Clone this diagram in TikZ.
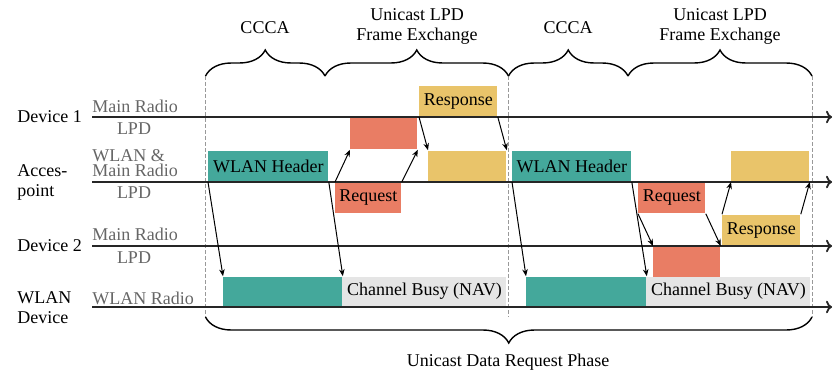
\documentclass[tikz,border=0pt]{standalone}
\usepackage{fontspec}
\setmainfont{Liberation Serif}
\usepackage{xcolor}
\definecolor{hdrteal}{HTML}{44A89B}
\definecolor{reqred}{HTML}{E97D64}
\definecolor{respyel}{HTML}{E9C46A}
\definecolor{navgray}{HTML}{E5E5E5}
\definecolor{lblgray}{HTML}{666666}
\usepackage{tikz}
\usetikzlibrary{arrows.meta,decorations.pathreplacing}

\begin{document}
\begin{tikzpicture}[x=0.5pt, y=-0.5pt,
    every node/.style={font=\fontsize{9}{10}\selectfont},
    box/.style={inner sep=0pt, minimum height=15.5pt, anchor=south west},
    hdr/.style={box, fill=hdrteal},
    req/.style={box, fill=reqred},
    resp/.style={box, fill=respyel},
    nav/.style={box, fill=navgray},
    dev/.style={anchor=west, align=left, inner sep=0pt},
    radio/.style={text=lblgray, inner sep=0pt},
    tl/.style={-{To[length=3pt]}, line width=0.9pt, draw=black!85},
    arr/.style={-{Stealth[length=3.5pt, width=2.8pt]}, line width=0.5pt},
    phase/.style={dash pattern=on 2pt off 1pt, draw=black!40, line width=0.5pt},
    brc/.style={decorate, decoration={brace, amplitude=13pt}, line width=0.7pt}]
  \useasboundingbox (0,0) rectangle (833,374);

  % phase borders and braces
  \coordinate (p0) at (205.5,76);  \coordinate (p0b) at (205.5,317);
  \coordinate (m1) at (325,76);
  \coordinate (p1) at (508.5,76);  \coordinate (p1b) at (508.5,317);
  \coordinate (m2) at (628,76);
  \coordinate (p2) at (812,76);    \coordinate (p2b) at (812,317);
  \draw[phase] (p0) -- (p0b);
  \draw[phase] (p1) -- (p1b);
  \draw[phase] (p2) -- (p2b);
  \draw[brc] (p0) -- (m1);
  \draw[brc] (m1) -- (p1);
  \draw[brc] (p1) -- (m2);
  \draw[brc] (m2) -- (p2);
  \draw[brc] (p2b) -- (p0b);
  \node (ccca1) at (265,28) {CCCA};
  \node[align=center] (ufx1) at (417,26) {Unicast LPD\\Frame Exchange};
  \node (ccca2) at (568,28) {CCCA};
  \node[align=center] (ufx2) at (720,26) {Unicast LPD\\Frame Exchange};
  \node (udrp) at (508,362) {Unicast Data Request Phase};

  % stations
  \node[dev] (dev1) at (17,117) {Device 1};
  \node[dev] (ap)   at (17,182) {Acces-\\point};
  \node[dev] (dev2) at (17,246) {Device 2};
  \node[dev] (wdev) at (17,308) {WLAN\\Device};
  \node[radio, anchor=west] (d1main) at (92,106) {Main Radio};
  \node[radio] (d1lpd) at (134,129) {LPD};
  \node[radio, anchor=west, align=left] (apmain) at (92,163) {WLAN \&\\[-2.5pt]Main Radio};
  \node[radio] (aplpd) at (134,193) {LPD};
  \node[radio, anchor=west] (d2main) at (92,234) {Main Radio};
  \node[radio] (d2lpd) at (134,258) {LPD};
  \node[radio, anchor=west] (wlradio) at (92,298) {WLAN Radio};

  % first exchange
  \node[hdr, minimum width=60pt] (whdr1) at (208,182) {WLAN Header};
  \node[req, anchor=north west, minimum width=33pt] (req1) at (335,182) {Request};
  \node[req, anchor=north west, minimum width=33.5pt, minimum height=16pt] (lpd1) at (350,117) {};
  \node[resp, minimum width=39pt] (resp1) at (419,117) {Response};
  \node[resp, minimum width=39pt] (ack1) at (428,182) {};
  \node[hdr, minimum width=59.5pt, minimum height=15pt] (wlan1) at (223,307) {};
  \node[nav, minimum width=82pt, minimum height=15pt] (nav1) at (342,307) {Channel Busy (NAV)};

  % second exchange
  \node[hdr, minimum width=59.5pt] (whdr2) at (512,182) {WLAN Header};
  \node[req, anchor=north west, minimum width=33.5pt] (req2) at (638,182) {Request};
  \node[req, anchor=north west, minimum width=33.5pt, minimum height=16pt] (lpd2) at (653,246) {};
  \node[resp, minimum width=39pt] (resp2) at (722,246) {Response};
  \node[resp, minimum width=39pt] (ack2) at (731,182) {};
  \node[hdr, minimum width=60pt, minimum height=15pt] (wlan2) at (526,307) {};
  \node[nav, minimum width=82pt, minimum height=15pt] (nav2) at (646,307) {Channel Busy (NAV)};

  % timelines
  \coordinate (d1a) at (92,117);  \coordinate (d1b) at (832,117);
  \coordinate (apa) at (92,182);  \coordinate (apb) at (832,182);
  \coordinate (d2a) at (92,246);  \coordinate (d2b) at (832,246);
  \coordinate (wla) at (92,307);  \coordinate (wlb) at (832,307);
  \draw[tl] (d1a) -- (d1b);
  \draw[tl] (apa) -- (apb);
  \draw[tl] (d2a) -- (d2b);
  \draw[tl] (wla) -- (wlb);

  \draw[arr] (whdr1.south west) -- (wlan1.north west);
  \draw[arr] (whdr1.south east) -- (wlan1.north east);
  \draw[arr] (req1.north west) -- (lpd1.south west);
  \draw[arr] (req1.north east) -- (lpd1.south east);
  \draw[arr] (resp1.south west) -- (ack1.north west);
  \draw[arr] (resp1.south east) -- (ack1.north east);
  \draw[arr] (whdr2.south west) -- (wlan2.north west);
  \draw[arr] (whdr2.south east) -- (wlan2.north east);
  \draw[arr] (req2.south west) -- (lpd2.north west);
  \draw[arr] (req2.south east) -- (lpd2.north east);
  \draw[arr] (resp2.north west) -- (ack2.south west);
  \draw[arr] (resp2.north east) -- (ack2.south east);
\end{tikzpicture}
\end{document}
